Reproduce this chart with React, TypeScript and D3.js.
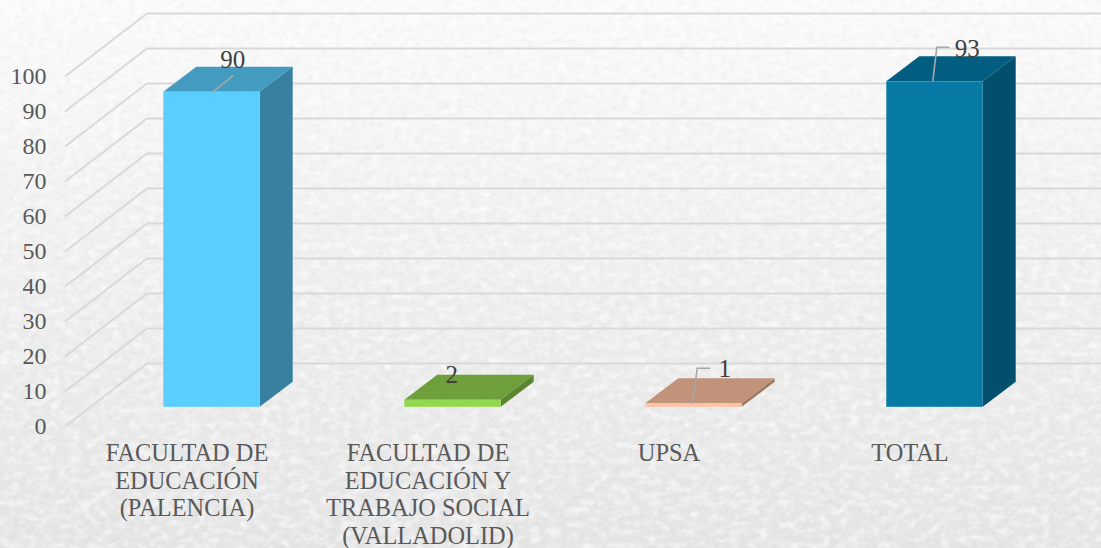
import * as d3 from 'd3';

const WIDTH = 1101;
const HEIGHT = 548;

const CATEGORIES = ['FACULTAD DE EDUCACIÓN (PALENCIA)', 'FACULTAD DE EDUCACIÓN Y TRABAJO SOCIAL (VALLADOLID)', 'UPSA', 'TOTAL'];
const CATEGORY_LINES = [
  ['FACULTAD DE', 'EDUCACIÓN', '(PALENCIA)'],
  ['FACULTAD DE', 'EDUCACIÓN Y', 'TRABAJO SOCIAL', '(VALLADOLID)'],
  ['UPSA'],
  ['TOTAL'],
];
const VALUES = [90, 2, 1, 93];
const FRONT_COLORS = ['#5ACEFF', '#92D74F', '#FFC1A3', '#0779A5'];
const TOP_COLORS = ['#439CC0', '#6F9F3A', '#C1937A', '#025D80'];
const SIDE_COLORS = ['#38809F', '#5C8530', '#9E7861', '#014F6B'];

// 3D projection of the chart box
const floorDx = 82;
const floorDy = -63;
const barDx = 33;
const barDy = -25;
const baseOffset = { x: 24.5, y: -19.7 };

const FONT = '"Liberation Serif", serif';

export default function App() {
  const x = d3.scaleBand<string>()
    .domain(CATEGORIES)
    .range([91, 1055])
    .paddingInner(0.6)
    .paddingOuter(0.3);

  const y = d3.scaleLinear().domain([0, 100]).range([426.5, 76.5]);
  const ticks = y.ticks(10);
  const left = 65;

  const baseY = y(0) + baseOffset.y;
  const barH = (v: number) => y(0) - y(v);

  // leader lines and value labels, relative to each bar's top-front edge
  const leaders = [
    { pts: [[49, 0.5], [70, -16.5]], tx: 69.5, ty: -24 },
    { pts: [], tx: 47.5, ty: -17 },
    { pts: [[47, 0.5], [52, -35], [65, -35]], tx: 79.5, ty: -26 },
    { pts: [[46.5, 0], [50.5, -34], [63, -34]], tx: 81, ty: -24 },
  ];

  return (
    <svg
      width={WIDTH}
      height={HEIGHT}
      style={{ position: 'absolute', left: 0, top: 0, display: 'block' }}
      fontFamily={FONT}
    >
      <defs>
        <linearGradient id="bg" x1="0" y1="0" x2="0" y2="1">
          <stop offset="0" stopColor="#fbfbfb" />
          <stop offset="0.4" stopColor="#f1f1f1" />
          <stop offset="1" stopColor="#e5e5e5" />
        </linearGradient>
        <filter id="speckDark" x="0" y="0" width="100%" height="100%">
          <feTurbulence type="fractalNoise" baseFrequency="0.14 0.18" numOctaves={2} seed={4} />
          <feColorMatrix type="matrix" values="0 0 0 0 0.45  0 0 0 0 0.45  0 0 0 0 0.45  1.6 1.6 0 0 -1.45" />
          <feGaussianBlur stdDeviation="0.6" />
        </filter>
        <filter id="speckLight" x="0" y="0" width="100%" height="100%">
          <feTurbulence type="fractalNoise" baseFrequency="0.1 0.14" numOctaves={2} seed={11} />
          <feColorMatrix type="matrix" values="0 0 0 0 1  0 0 0 0 1  0 0 0 0 1  1.8 1.8 0 0 -1.6" />
          <feGaussianBlur stdDeviation="0.6" />
        </filter>
      </defs>

      <rect width={WIDTH} height={HEIGHT} fill="url(#bg)" />
      <rect width={WIDTH} height={HEIGHT} filter="url(#speckLight)" opacity={0.6} />
      <rect width={WIDTH} height={HEIGHT} filter="url(#speckDark)" opacity={0.1} />

      {/* Grid lines: side wall then back wall */}
      {ticks.map(t => (
        <path
          key={t}
          d={`M${left},${y(t)}L${left + floorDx},${y(t) + floorDy}H${WIDTH}`}
          fill="none"
          stroke="#d9d9d9"
          strokeWidth={2}
        />
      ))}

      {/* Y axis labels */}
      {ticks.map(t => (
        <text key={t} x={46.5} y={y(t) + 7} textAnchor="end" fontSize={24} fill="#595959">
          {t}
        </text>
      ))}

      {/* Bars */}
      {CATEGORIES.map((c, i) => {
        const bx = x(c)!;
        const bw = x.bandwidth();
        const h = barH(VALUES[i]);
        const top = baseY - h;
        return (
          <g key={c}>
            <path
              d={`M${bx},${top}l${barDx},${barDy}h${bw}l${-barDx},${-barDy}z`}
              fill={TOP_COLORS[i]}
            />
            <path
              d={`M${bx + bw},${top}l${barDx},${barDy}v${h}l${-barDx},${-barDy}z`}
              fill={SIDE_COLORS[i]}
            />
            <rect x={bx} y={top} width={bw} height={h} fill={FRONT_COLORS[i]} />
          </g>
        );
      })}

      {/* Value labels with leader lines */}
      {CATEGORIES.map((c, i) => {
        const bx = x(c)!;
        const top = baseY - barH(VALUES[i]);
        const l = leaders[i];
        const line = d3.line<number[]>().x(p => bx + p[0]).y(p => top + p[1]);
        return (
          <g key={c}>
            {l.pts.length > 0 && (
              <path d={line(l.pts) ?? ''} fill="none" stroke="#a6a6a6" strokeWidth={1.6} />
            )}
            <text x={bx + l.tx} y={top + l.ty} textAnchor="middle" fontSize={25} fill="#404040">
              {VALUES[i]}
            </text>
          </g>
        );
      })}

      {/* Category labels */}
      {CATEGORIES.map((c, i) => (
        <text key={c} textAnchor="middle" fontSize={24.4} fill="#595959">
          {CATEGORY_LINES[i].map((ln, j) => (
            <tspan key={ln} x={x(c)! + x.bandwidth() / 2 - 24.5} y={461 + j * 27.5}>
              {ln}
            </tspan>
          ))}
        </text>
      ))}
    </svg>
  );
}
